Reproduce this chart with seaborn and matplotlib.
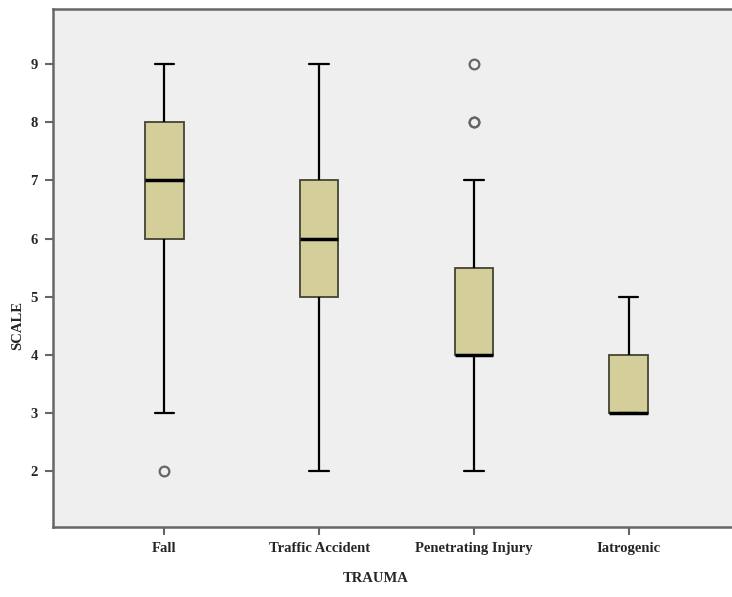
import matplotlib
matplotlib.use('Agg')
import pandas as pd
import matplotlib.pyplot as plt
import seaborn as sns

# Trauma categories and the SCALE scores per group (read from the box summaries)
categories = ['Fall', 'Traffic Accident', 'Penetrating Injury', 'Iatrogenic']
fall = [2, 3, 5, 6, 6, 7, 7, 7, 8, 8, 8, 9, 9]
traffic = [2, 3, 4, 5, 5, 6, 6, 6, 7, 7, 7, 8, 9]
penetrating = [2, 3, 3, 3, 4, 4, 4, 4, 4, 4, 5, 5, 5, 5, 6, 7, 8, 8, 9]
iatrogenic = [3, 3, 3, 3, 3, 4, 4, 4, 5]
y_ticks = [2, 3, 4, 5, 6, 7, 8, 9]

groups = [fall, traffic, penetrating, iatrogenic]
df = pd.DataFrame({
    'TRAUMA': [c for c, g in zip(categories, groups) for _ in g],
    'SCALE': [v for g in groups for v in g],
})

sns.set_style('white')
plt.rcParams['font.family'] = ['Liberation Serif', 'DejaVu Serif']
plt.rcParams['font.weight'] = 'bold'

fig = plt.figure(figsize=(7.32, 5.97), dpi=100)
ax = fig.add_axes([0.0724, 0.1173, 0.9385, 0.8677])
ax.set_facecolor('#efefef')

sns.boxplot(data=df, x='TRAUMA', y='SCALE', order=categories, ax=ax,
            width=0.25, color='#d4cf9a', saturation=1, fill=True, whis=1.5,
            boxprops=dict(edgecolor='#444433', linewidth=1.3),
            medianprops=dict(color='black', linewidth=2.5),
            whiskerprops=dict(color='black', linewidth=1.6),
            capprops=dict(color='black', linewidth=1.6),
            flierprops=dict(marker='o', markersize=7, markerfacecolor='none',
                            markeredgecolor='#666666', markeredgewidth=1.6))

ax.set_xlim(-0.72, 3.72)
ax.set_ylim(1.04, 9.95)
ax.set_yticks(y_ticks)
ax.set_yticklabels([str(t) for t in y_ticks])

for side in ['left', 'top', 'bottom']:
    ax.spines[side].set_color('#666666')
    ax.spines[side].set_linewidth(1.8)
ax.spines['right'].set_visible(False)

ax.tick_params(axis='both', direction='out', length=6, width=1.5, color='#666666',
               labelsize=10.5, pad=5, left=True, bottom=True)
for lab in ax.get_xticklabels() + ax.get_yticklabels():
    lab.set_fontweight('bold')

ax.set_xlabel('TRAUMA', fontsize=10.5, fontweight='bold')
ax.set_ylabel('SCALE', fontsize=10.5, fontweight='bold')
ax.xaxis.set_label_coords(0.470, -0.100)
ax.xaxis.label.set_va('center')
ax.yaxis.set_label_coords(-0.051, 0.388)
ax.yaxis.label.set_va('center')

plt.savefig('out.png', dpi=100)
